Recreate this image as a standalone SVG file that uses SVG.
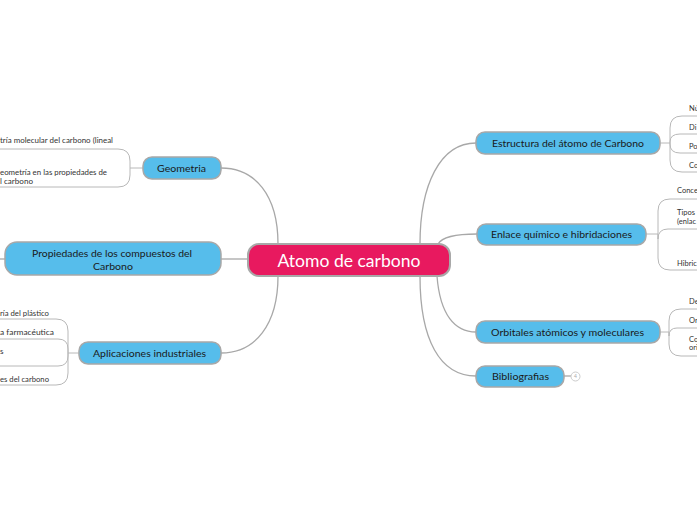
<svg xmlns="http://www.w3.org/2000/svg" width="697" height="520" viewBox="0 0 697 520">
<style>
.node{fill:#56bdeb;stroke:#a8a8a8;stroke-width:1.5}
.root{fill:#e8195f;stroke:#a8a8a8;stroke-width:2}
.lbl{font-family:Lato,"Noto Sans",sans-serif;font-size:10px;fill:#1a1a1a}
.rl{font-family:Lato,"Noto Sans",sans-serif;font-size:17px;fill:#ffffff}
.sm{font-family:Lato,"Noto Sans",sans-serif;font-size:7.5px;fill:#333333}
.c{fill:none;stroke:#a8a8a8;stroke-width:1.3}
.b{fill:none;stroke:#b8b8b8;stroke-width:1}
</style>
<rect width="697" height="520" fill="#ffffff"/>
<g id="connectors">
<path class="c" d="M221,168 C255,168 278,195 278,244"/>
<path class="c" d="M221,259 H248"/>
<path class="c" d="M0,259 H5"/>
<path class="c" d="M278,276 C278,325 255,353 221,353"/>
<path class="c" d="M420,244 C420,185 440,143 476,143"/>
<path class="c" d="M438,244 C442,237 455,234 477,234"/>
<path class="c" d="M437,276 C440,315 455,332 476,332"/>
<path class="c" d="M420,276 C420,340 440,376 476,376"/>
<path class="c" d="M564,376 H571"/>
<path class="b" d="M143,168 H130"/>
<path class="b" d="M130,168 V161 Q130,149 118,149 H0"/>
<path class="b" d="M130,168 V175 Q130,187 118,187 H0"/>
<path class="b" d="M79,353 H68"/>
<path class="b" d="M68,353 V331 Q68,319 56,319 H0"/>
<path class="b" d="M68,353 V349 Q68,339 58,339 H0"/>
<path class="b" d="M68,353 V356 Q68,366 58,366 H0"/>
<path class="b" d="M68,353 V373 Q68,385 56,385 H0"/>
<path class="b" d="M660,143 H670"/>
<path class="b" d="M670,143 V128 Q670,116 682,116 H697"/>
<path class="b" d="M670,143 V142 Q670,134 680,134 H697"/>
<path class="b" d="M670,143 V144 Q670,153 680,153 H697"/>
<path class="b" d="M670,143 V160 Q670,172 682,172 H697"/>
<path class="b" d="M646,234 H658"/>
<path class="b" d="M658,234 V211 Q658,199 670,199 H697"/>
<path class="b" d="M658,234 V239 Q658,229 668,229 H697"/>
<path class="b" d="M658,234 V258 Q658,270 670,270 H697"/>
<path class="b" d="M660,332 H669"/>
<path class="b" d="M669,332 V321 Q669,309 681,309 H697"/>
<path class="b" d="M669,332 V336 Q669,328 677,328 H697"/>
<path class="b" d="M669,332 V344 Q669,356 681,356 H697"/>
</g>
<g id="root">
<rect class="root" x="248" y="244" width="202" height="32" rx="11"/>
<text class="rl" x="349" y="267" text-anchor="middle" textLength="143" lengthAdjust="spacingAndGlyphs">Atomo de carbono</text>
</g>
<g id="geometria">
<rect class="node" x="143" y="157" width="78" height="22" rx="9"/>
<text class="lbl" x="157" y="171.5" textLength="49" lengthAdjust="spacingAndGlyphs">Geometria</text>
</g>
<g id="geometria-children">
<text class="sm" x="0" y="143" textLength="113" lengthAdjust="spacingAndGlyphs">tría molecular del carbono (lineal</text>
<text class="sm" x="0" y="174.5" textLength="107" lengthAdjust="spacingAndGlyphs">eometría en las propiedades de</text>
<text class="sm" x="0" y="183.5" textLength="33" lengthAdjust="spacingAndGlyphs">l carbono</text>
</g>
<g id="propiedades">
<rect class="node" x="5" y="242" width="216" height="33" rx="12"/>
<text class="lbl" x="112" y="256.5" text-anchor="middle" textLength="160" lengthAdjust="spacingAndGlyphs">Propiedades de los compuestos del</text>
<text class="lbl" x="113" y="269.5" text-anchor="middle" textLength="40" lengthAdjust="spacingAndGlyphs">Carbono</text>
</g>
<g id="aplicaciones">
<rect class="node" x="79" y="342" width="142" height="22" rx="9"/>
<text class="lbl" x="93" y="356.5" textLength="113" lengthAdjust="spacingAndGlyphs">Aplicaciones industriales</text>
</g>
<g id="aplicaciones-children">
<text class="sm" x="0" y="315.5" textLength="49" lengthAdjust="spacingAndGlyphs">ría del plástico</text>
<text class="sm" x="0" y="334.5" textLength="54" lengthAdjust="spacingAndGlyphs">a farmacéutica</text>
<text class="sm" x="0" y="353.5" textLength="3.5" lengthAdjust="spacingAndGlyphs">s</text>
<text class="sm" x="0" y="381.5" textLength="49" lengthAdjust="spacingAndGlyphs">es del carbono</text>
</g>
<g id="estructura">
<rect class="node" x="476" y="132" width="184" height="22" rx="9"/>
<text class="lbl" x="492" y="146.5" textLength="152" lengthAdjust="spacingAndGlyphs">Estructura del átomo de Carbono</text>
</g>
<g id="estructura-children">
<text class="sm" x="689" y="110.5">Nú</text>
<text class="sm" x="689" y="129.5">Di</text>
<text class="sm" x="689" y="148.5">Po</text>
<text class="sm" x="689" y="167.5">Co</text>
</g>
<g id="enlace">
<rect class="node" x="477" y="224" width="169" height="21" rx="9"/>
<text class="lbl" x="491" y="237.5" textLength="141" lengthAdjust="spacingAndGlyphs">Enlace químico e hibridaciones</text>
</g>
<g id="enlace-children">
<text class="sm" x="677" y="192.5">Conce</text>
<text class="sm" x="677" y="214.5">Tipos</text>
<text class="sm" x="677" y="223.5">(enlac</text>
<text class="sm" x="677" y="265.5">Hibric</text>
</g>
<g id="orbitales">
<rect class="node" x="476" y="321" width="184" height="22" rx="9"/>
<text class="lbl" x="491" y="335.5" textLength="153" lengthAdjust="spacingAndGlyphs">Orbitales atómicos y moleculares</text>
</g>
<g id="orbitales-children">
<text class="sm" x="689" y="303.5">De</text>
<text class="sm" x="689" y="322.5">Or</text>
<text class="sm" x="689" y="341.5">Co</text>
<text class="sm" x="689" y="349.5">ori</text>
</g>
<g id="bibliografias">
<rect class="node" x="476" y="366" width="88" height="21" rx="9"/>
<text class="lbl" x="492" y="379.5" textLength="57" lengthAdjust="spacingAndGlyphs">Bibliografias</text>
<circle cx="575.5" cy="376.5" r="4.5" fill="#ffffff" stroke="#cccccc" stroke-width="1"/>
<text x="575.5" y="378.3" text-anchor="middle" font-family="Lato,sans-serif" font-size="5" fill="#aaaaaa">4</text>
</g>
</svg>
